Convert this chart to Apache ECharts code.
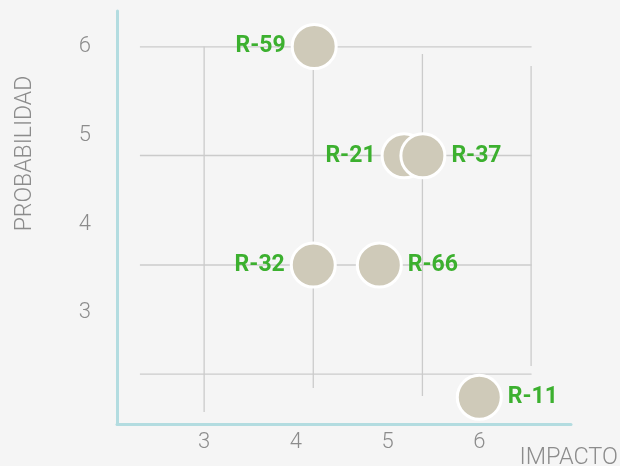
<!DOCTYPE html>
<html>
<head>
<meta charset="utf-8">
<script src="https://cdn.jsdelivr.net/npm/echarts@6/dist/echarts.min.js"></script>
<style>
html,body{margin:0;padding:0;background:#f5f5f5;}
#chart{width:620px;height:466px;}
</style>
</head>
<body>
<div id="chart"></div>
<script>
// Data
const riskIds = ['R-59', 'R-21', 'R-37', 'R-32', 'R-66', 'R-11'];
const impacto = [4.2, 5.18, 5.385, 4.19, 4.91, 6.0];
const probabilidad = [6.0, 4.77, 4.77, 3.54, 3.54, 2.05];
const labelSide = ['left', 'left', 'right', 'left', 'right', 'right'];
const xTickValues = [3, 4, 5, 6];
const yTickValues = [3, 4, 5, 6];
// Background matrix lines (in data units)
const gridX = [3.0, 4.19, 5.38, 6.565];
const gridXTop = [6.0, 6.0, 5.916, 5.78];
const gridXBottom = [1.884, 2.155, 2.064, 2.402];
const gridY = [5.995, 4.773, 3.54, 2.312];
const gridYLeft = [2.30, 2.30, 2.30, 2.30];
const gridYRight = [6.57, 6.57, 6.57, 6.57];

const lineStyle = { color: '#cbcbcb', width: 1.3 };
const series = [];
gridX.forEach((x, i) => {
  series.push({ type: 'line', data: [[x, gridXTop[i]], [x, gridXBottom[i]]], symbol: 'none', silent: true, lineStyle, z: 1, animation: false });
});
gridY.forEach((y, i) => {
  series.push({ type: 'line', data: [[gridYLeft[i], y], [gridYRight[i], y]], symbol: 'none', silent: true, lineStyle, z: 1, animation: false });
});
series.push({
  type: 'scatter',
  z: 5,
  symbolSize: 44,
  animation: false,
  itemStyle: { color: '#cfcab9', borderColor: '#ffffff', borderWidth: 3, opacity: 1 },
  data: riskIds.map((id, i) => ({
    value: [impacto[i], probabilidad[i]],
    name: id,
    label: { position: labelSide[i] }
  })),
  label: {
    show: true,
    formatter: p => p.name,
    color: '#3cb02f',
    fontFamily: 'Roboto',
    fontWeight: 'bold',
    fontSize: 23,
    distance: 5
  }
});

const chart = echarts.init(document.getElementById('chart'));
chart.setOption({
  backgroundColor: '#f5f5f5',
  animation: false,
  grid: { left: 117, right: 49, top: 11, bottom: 42, outerBoundsMode: 'none', containLabel: false },
  xAxis: {
    type: 'value', min: 2.05, max: 7.0,
    name: 'IMPACTO', nameLocation: 'end', nameGap: 47,
    nameTextStyle: { color: '#8c8c8c', fontFamily: 'Roboto', fontWeight: 300, fontSize: 23.5, align: 'right', verticalAlign: 'top', padding: [22, 0, 0, 0] },
    axisLine: { show: true, lineStyle: { color: '#b3dce0', width: 3 } },
    axisTick: { show: false },
    splitLine: { show: false },
    axisLabel: { customValues: xTickValues, color: '#8c8c8c', fontFamily: 'Roboto', fontWeight: 300, fontSize: 22, margin: 7 }
  },
  yAxis: {
    type: 'value', min: 1.75, max: 6.4,
    name: 'PROBABILIDAD', nameLocation: 'middle', nameGap: 80, nameRotate: 90,
    nameTextStyle: { color: '#8c8c8c', fontFamily: 'Roboto', fontWeight: 300, fontSize: 23, padding: [0, 0, 0, 128] },
    axisLine: { show: true, lineStyle: { color: '#b3dce0', width: 3 } },
    axisTick: { show: false },
    splitLine: { show: false },
    axisLabel: { customValues: yTickValues, color: '#8c8c8c', fontFamily: 'Roboto', fontWeight: 300, fontSize: 22, margin: 26 }
  },
  series
});
</script>
</body>
</html>
